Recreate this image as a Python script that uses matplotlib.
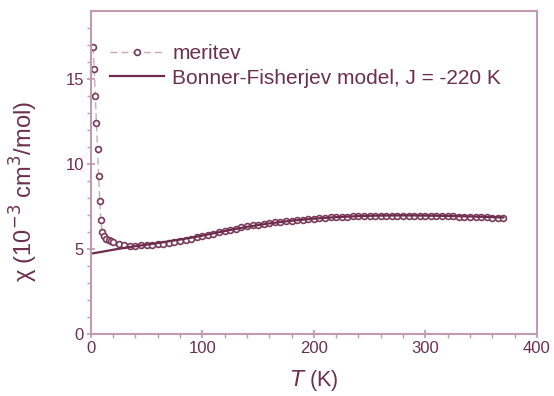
import matplotlib.pyplot as plt
import numpy as np

plt.rcParams['font.family'] = ['Liberation Sans', 'DejaVu Sans']

# measured susceptibility (meritev)
T_meas = [2, 3, 4, 5, 6, 7, 8, 9, 10, 12, 14, 16, 18,
          20, 25, 30, 35, 40, 45, 50, 55, 60, 65, 70, 75, 80, 85, 90, 95,
          100, 105, 110, 115, 120, 125, 130, 135, 140, 145, 150, 155, 160,
          165, 170, 175, 180, 185, 190, 195, 200, 205, 210, 215, 220, 225,
          230, 235, 240, 245, 250, 255, 260, 265, 270, 275, 280, 285, 290,
          295, 300, 305, 310, 315, 320, 325, 330, 335, 340, 345, 350, 355,
          360, 365, 370]
chi_meas = [16.9, 15.6, 14.0, 12.4, 10.9, 9.3, 7.8, 6.7, 6.0, 5.75, 5.6, 5.5, 5.45,
            5.38, 5.27, 5.2, 5.18, 5.18, 5.2, 5.22, 5.25, 5.28, 5.3, 5.35, 5.4,
            5.45, 5.52, 5.6, 5.68, 5.75, 5.82, 5.9, 5.98, 6.05, 6.12, 6.2, 6.27,
            6.33, 6.38, 6.43, 6.48, 6.52, 6.56, 6.6, 6.63, 6.67, 6.7, 6.73, 6.76,
            6.78, 6.8, 6.83, 6.85, 6.87, 6.88, 6.9, 6.91, 6.92, 6.93, 6.94, 6.94,
            6.95, 6.95, 6.96, 6.96, 6.96, 6.96, 6.95, 6.95, 6.95, 6.94, 6.93, 6.93,
            6.92, 6.91, 6.9, 6.89, 6.88, 6.87, 6.86, 6.85, 6.84, 6.83, 6.82]

# Bonner-Fisher model curve
T_model = [0, 10, 20, 30, 40, 50, 60, 70, 80, 90, 100, 120, 140, 160, 180,
           200, 220, 240, 260, 280, 300, 320, 340, 360, 370]
chi_model = [4.72, 4.83, 4.95, 5.06, 5.16, 5.25, 5.34, 5.45, 5.55, 5.66, 5.78,
             6.05, 6.3, 6.5, 6.66, 6.78, 6.87, 6.93, 6.96, 6.97, 6.96, 6.94,
             6.91, 6.87, 6.85]

dark = '#6e2c4c'
spine = '#c09aad'
txt = '#6b3050'

fig = plt.figure(figsize=(5.54, 3.96), dpi=100)
ax = fig.add_axes([0.164, 0.157, 0.805, 0.815])

ax.plot(T_meas, chi_meas, linestyle=(0, (5, 3)), color='#c9a9b9', lw=1,
        marker='o', markersize=4.2, markerfacecolor='white',
        markeredgecolor='#7a3a5c', markeredgewidth=1.2, label='meritev')
ax.plot(T_model, chi_model, color=dark, lw=1.6,
        label='Bonner-Fisherjev model, J = -220 K')

ax.set_xlim(0, 400)
ax.set_ylim(0, 19)
ax.set_xticks(np.arange(0, 401, 100))
ax.set_xticks(np.arange(0, 401, 20), minor=True)
ax.set_yticks([0, 5, 10, 15])
ax.set_yticks(np.arange(0, 19, 1), minor=True)

for s in ax.spines.values():
    s.set_color(spine)
    s.set_linewidth(1.5)
ax.tick_params(which='major', direction='inout', length=6, width=1.2,
               color=spine, labelcolor=txt, labelsize=12, pad=2)
ax.tick_params(which='minor', direction='out', length=3, width=1,
               color=spine)

ax.set_xlabel('$T$ (K)', fontsize=15.5, color=txt, labelpad=9)
ax.set_ylabel('χ (10$^{-3}$ cm$^{3}$/mol)', fontsize=17, color=txt)
ax.yaxis.set_label_coords(-0.115, 0.44)

leg = ax.legend(loc='upper left', frameon=False, fontsize=15,
                handlelength=2.6, handletextpad=0.4, borderaxespad=0.5,
                labelspacing=0.25, bbox_to_anchor=(0.0, 0.955))
for t in leg.get_texts():
    t.set_color(txt)

fig.savefig('out.png', dpi=100)
